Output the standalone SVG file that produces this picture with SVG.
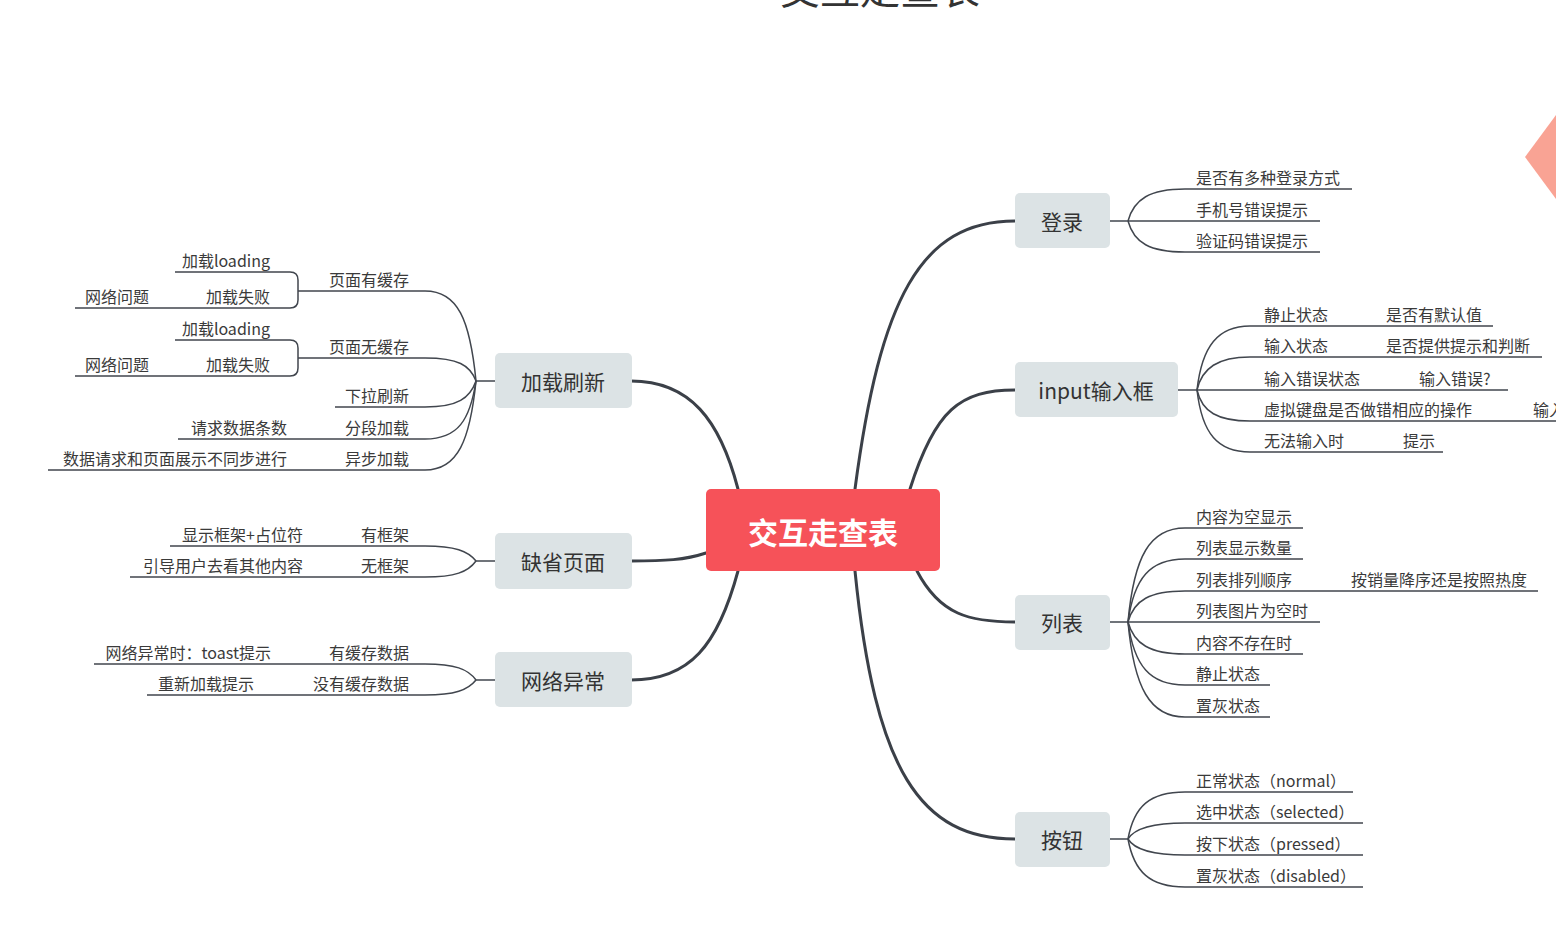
<svg xmlns="http://www.w3.org/2000/svg" width="1556" height="940" viewBox="0 0 1556 940">
<style>
text{font-family:"Noto Sans CJK SC","Noto Sans",sans-serif;fill:#3a3a3a}
.t{font-size:16px}
.n{font-size:21px;text-anchor:middle;dominant-baseline:central;fill:#333}
.e{text-anchor:end}
.box{fill:#DCE3E5}
.main{fill:none;stroke:#3B4048;stroke-width:3;stroke-linecap:round}
.sub{fill:none;stroke:#41464E;stroke-width:1.5}
</style>
<rect width="1556" height="940" fill="#fff"/>
<text x="880" y="4" style="font-size:40px;text-anchor:middle;fill:#333">交互走查表</text>
<polygon points="1525,157 1570,96 1615,157 1570,218" fill="#F9A394"/>

<g id="connectors">
  <!-- main -->
  <path class="main" d="M855,489 C880,300 920,221 1015,221"/>
  <path class="main" d="M910,489 C935,410 960,390 1015,390"/>
  <path class="main" d="M917,571 C940,615 970,622 1015,622"/>
  <path class="main" d="M855,571 C875,770 920,839 1015,839"/>
  <path class="main" d="M738,489 C720,420 690,381 631,381"/>
  <path class="main" d="M706,553 C685,560 665,561 631,561"/>
  <path class="main" d="M738,571 C718,645 690,680 631,680"/>

  <!-- 登录 -->
  <path class="sub" d="M1108,221 H1128"/>
  <path class="sub" d="M1128,221 C1134,199 1150,189 1185,189 H1352"/>
  <path class="sub" d="M1128,221 H1320"/>
  <path class="sub" d="M1128,221 C1134,243 1150,252 1185,252 H1320"/>

  <!-- input -->
  <path class="sub" d="M1178,390 H1197"/>
  <path class="sub" d="M1197,390 C1202,346 1218,326 1250,326 H1493"/>
  <path class="sub" d="M1197,390 C1202,368 1218,357 1250,357 H1542"/>
  <path class="sub" d="M1197,390 H1508"/>
  <path class="sub" d="M1197,390 C1202,412 1218,421 1250,421 H1556"/>
  <path class="sub" d="M1197,390 C1202,434 1218,452 1250,452 H1443"/>

  <!-- 列表 -->
  <path class="sub" d="M1108,622 H1128"/>
  <path class="sub" d="M1128,622 C1134,556 1150,528 1185,528 H1303"/>
  <path class="sub" d="M1128,622 C1134,578 1150,559 1185,559 H1303"/>
  <path class="sub" d="M1128,622 C1134,600 1150,591 1185,591 H1538"/>
  <path class="sub" d="M1128,622 H1320"/>
  <path class="sub" d="M1128,622 C1134,644 1150,654 1185,654 H1303"/>
  <path class="sub" d="M1128,622 C1134,666 1150,685 1185,685 H1270"/>
  <path class="sub" d="M1128,622 C1134,688 1150,717 1185,717 H1270"/>

  <!-- 按钮 -->
  <path class="sub" d="M1108,839 H1128"/>
  <path class="sub" d="M1128,839 C1134,806 1150,792 1185,792 H1353"/>
  <path class="sub" d="M1128,839 C1134,829 1150,823 1185,823 H1363"/>
  <path class="sub" d="M1128,839 C1134,849 1150,855 1185,855 H1363"/>
  <path class="sub" d="M1128,839 C1134,872 1150,887 1185,887 H1363"/>

  <!-- 加载刷新 -->
  <path class="sub" d="M495,381 H476"/>
  <path class="sub" d="M476,381 C470,320 458,291 425,291 H298"/>
  <path class="sub" d="M476,381 C470,365 458,358 425,358 H298"/>
  <path class="sub" d="M476,381 C470,398 458,407 425,407 H335"/>
  <path class="sub" d="M476,381 C470,420 458,439 425,439 H178"/>
  <path class="sub" d="M476,381 C470,440 458,470 425,470 H48"/>
  <path class="sub" d="M175,272 H290 Q298,272 298,280 V300 Q298,308 290,308 H75"/>
  <path class="sub" d="M175,340 H290 Q298,340 298,348 V368 Q298,376 290,376 H75"/>

  <!-- 缺省页面 -->
  <path class="sub" d="M495,561 H476"/>
  <path class="sub" d="M476,561 C468,551 455,546 425,546 H170"/>
  <path class="sub" d="M476,561 C468,572 455,577 425,577 H130"/>

  <!-- 网络异常 -->
  <path class="sub" d="M495,680 H476"/>
  <path class="sub" d="M476,680 C468,669 455,664 425,664 H94"/>
  <path class="sub" d="M476,680 C468,690 455,695 425,695 H147"/>
</g>

<g id="center">
  <rect x="706" y="489" width="234" height="82" rx="5" fill="#F65259"/>
  <text x="823" y="531" style="font-size:30px;font-weight:bold;fill:#fff;text-anchor:middle;dominant-baseline:central">交互走查表</text>
</g>

<g id="node-jiazai">
  <rect class="box" x="495" y="353" width="137" height="55" rx="5"/>
  <text class="n" x="563" y="381">加载刷新</text>
</g>
<g id="node-quesheng">
  <rect class="box" x="495" y="533" width="137" height="56" rx="5"/>
  <text class="n" x="563" y="561">缺省页面</text>
</g>
<g id="node-wangluo">
  <rect class="box" x="495" y="652" width="137" height="55" rx="5"/>
  <text class="n" x="563" y="680">网络异常</text>
</g>
<g id="node-denglu">
  <rect class="box" x="1015" y="193" width="95" height="55" rx="5"/>
  <text class="n" x="1062" y="221">登录</text>
</g>
<g id="node-input">
  <rect class="box" x="1015" y="362" width="163" height="55" rx="5"/>
  <text class="n" x="1096" y="390">input输入框</text>
</g>
<g id="node-liebiao">
  <rect class="box" x="1015" y="595" width="95" height="55" rx="5"/>
  <text class="n" x="1062" y="622">列表</text>
</g>
<g id="node-anniu">
  <rect class="box" x="1015" y="812" width="95" height="55" rx="5"/>
  <text class="n" x="1062" y="839">按钮</text>
</g>

<g id="labels-right" class="t">
  <text class="t" x="1196" y="184">是否有多种登录方式</text>
  <text class="t" x="1196" y="216">手机号错误提示</text>
  <text class="t" x="1196" y="247">验证码错误提示</text>

  <text class="t" x="1264" y="321">静止状态</text>
  <text class="t" x="1386" y="321">是否有默认值</text>
  <text class="t" x="1264" y="352">输入状态</text>
  <text class="t" x="1386" y="352">是否提供提示和判断</text>
  <text class="t" x="1264" y="385">输入错误状态</text>
  <text class="t" x="1419" y="385">输入错误?</text>
  <text class="t" x="1264" y="416">虚拟键盘是否做错相应的操作</text>
  <text class="t" x="1533" y="416">输入</text>
  <text class="t" x="1264" y="447">无法输入时</text>
  <text class="t" x="1403" y="447">提示</text>

  <text class="t" x="1196" y="523">内容为空显示</text>
  <text class="t" x="1196" y="554">列表显示数量</text>
  <text class="t" x="1196" y="586">列表排列顺序</text>
  <text class="t" x="1351" y="586">按销量降序还是按照热度</text>
  <text class="t" x="1196" y="617">列表图片为空时</text>
  <text class="t" x="1196" y="649">内容不存在时</text>
  <text class="t" x="1196" y="680">静止状态</text>
  <text class="t" x="1196" y="712">置灰状态</text>

  <text class="t" x="1196" y="787">正常状态（normal）</text>
  <text class="t" x="1196" y="818">选中状态（selected）</text>
  <text class="t" x="1196" y="850">按下状态（pressed）</text>
  <text class="t" x="1196" y="882">置灰状态（disabled）</text>
</g>

<g id="labels-left">
  <text class="t e" x="270" y="267">加载loading</text>
  <text class="t e" x="409" y="286">页面有缓存</text>
  <text class="t e" x="149" y="303">网络问题</text>
  <text class="t e" x="270" y="303">加载失败</text>
  <text class="t e" x="270" y="335">加载loading</text>
  <text class="t e" x="409" y="353">页面无缓存</text>
  <text class="t e" x="149" y="371">网络问题</text>
  <text class="t e" x="270" y="371">加载失败</text>
  <text class="t e" x="409" y="402">下拉刷新</text>
  <text class="t e" x="287" y="434">请求数据条数</text>
  <text class="t e" x="409" y="434">分段加载</text>
  <text class="t e" x="287" y="465">数据请求和页面展示不同步进行</text>
  <text class="t e" x="409" y="465">异步加载</text>

  <text class="t e" x="303" y="541">显示框架+占位符</text>
  <text class="t e" x="409" y="541">有框架</text>
  <text class="t e" x="303" y="572">引导用户去看其他内容</text>
  <text class="t e" x="409" y="572">无框架</text>

  <text class="t e" x="271" y="659">网络异常时：toast提示</text>
  <text class="t e" x="409" y="659">有缓存数据</text>
  <text class="t e" x="254" y="690">重新加载提示</text>
  <text class="t e" x="409" y="690">没有缓存数据</text>
</g>
</svg>
